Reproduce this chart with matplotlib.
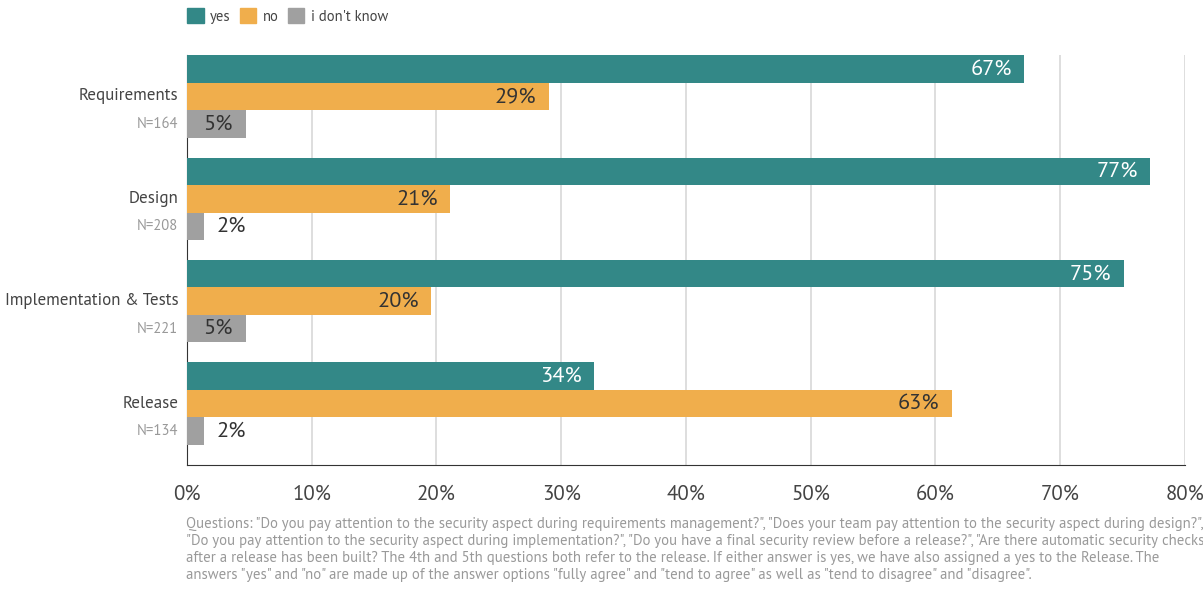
import matplotlib.pyplot as plt
import numpy as np
from matplotlib.patches import Patch

# data
stages = ["Requirements", "Design", "Implementation & Tests", "Release"]
n_labels = ["N=164", "N=208", "N=221", "N=134"]
yes = [67.1, 77.2, 75.1, 32.6]
no = [29.0, 21.1, 19.6, 61.3]
dont_know = [4.7, 1.4, 4.7, 1.4]
yes_txt = ["67%", "77%", "75%", "34%"]
no_txt = ["29%", "21%", "20%", "63%"]
dk_txt = ["5%", "2%", "5%", "2%"]
ticks = [0, 10, 20, 30, 40, 50, 60, 70, 80]

c_yes = "#338887"
c_no = "#f0ae4c"
c_dk = "#a0a0a0"

plt.rcParams['font.family'] = ['PT Sans', 'Lato', 'DejaVu Sans']

fig = plt.figure(figsize=(12.03, 5.99), dpi=100)
ax = fig.add_axes([0.1554, 0.2237, 0.8296, 0.6845])

y = np.arange(len(stages))
h = 0.268
series = [(yes, yes_txt, c_yes, -h, "white"), (no, no_txt, c_no, 0, "#333333"),
          (dont_know, dk_txt, c_dk, h, "#333333")]
for vals, txts, col, off, tcol in series:
    ax.barh(y + off, vals, height=h, color=col, zorder=3)
    for i, v in enumerate(vals):
        if v > 4:
            ax.text(v - 1.0, y[i] + off, txts[i], ha="right", va="center",
                    color=tcol, fontsize=16, zorder=4)
        else:
            ax.text(v + 1.0, y[i] + off, txts[i], ha="left", va="center",
                    color="#333333", fontsize=16, zorder=4)

ax.set_xlim(0, 80)
ax.set_ylim(3.6, -0.405)
ax.set_xticks(ticks)
ax.set_xticklabels([f"{t}%" for t in ticks], fontsize=15, color="#444444")
ax.tick_params(axis="x", length=0, pad=14)
ax.set_yticks([])
ax.grid(axis="x", color="#d8d8d8", linewidth=1.2, zorder=0)
for s in ["top", "right"]:
    ax.spines[s].set_visible(False)
ax.spines["left"].set_color("#333333")
ax.spines["bottom"].set_color("#333333")

for i in range(len(stages)):
    ax.text(-0.7, y[i], stages[i], ha="right", va="center", fontsize=12.2, color="#444444")
    ax.text(-0.7, y[i] + h, n_labels[i], ha="right", va="center", fontsize=10.5, color="#999999")

handles = [Patch(color=c_yes, label="yes"), Patch(color=c_no, label="no"),
           Patch(color=c_dk, label="i don't know")]
fig.legend(handles=handles, loc="upper left", bbox_to_anchor=(0.1445, 1.008), ncol=3,
           frameon=False, fontsize=10.5, handlelength=1.15, handleheight=1.15,
           handletextpad=0.45, columnspacing=0.6, labelcolor="#444444")

note = ('Questions: "Do you pay attention to the security aspect during requirements management?", "Does your team pay attention to the security aspect during design?",\n'
        '"Do you pay attention to the security aspect during implementation?", "Do you have a final security review before a release?", "Are there automatic security checks\n'
        'after a release has been built? The 4th and 5th questions both refer to the release. If either answer is yes, we have also assigned a yes to the Release. The\n'
        'answers "yes" and "no" are made up of the answer options "fully agree" and "tend to agree" as well as "tend to disagree" and "disagree".')
fig.text(0.155, 0.082, note, ha="left", va="center", fontsize=10.6, color="#999999",
         linespacing=1.27)

plt.savefig("out.png", dpi=100)
